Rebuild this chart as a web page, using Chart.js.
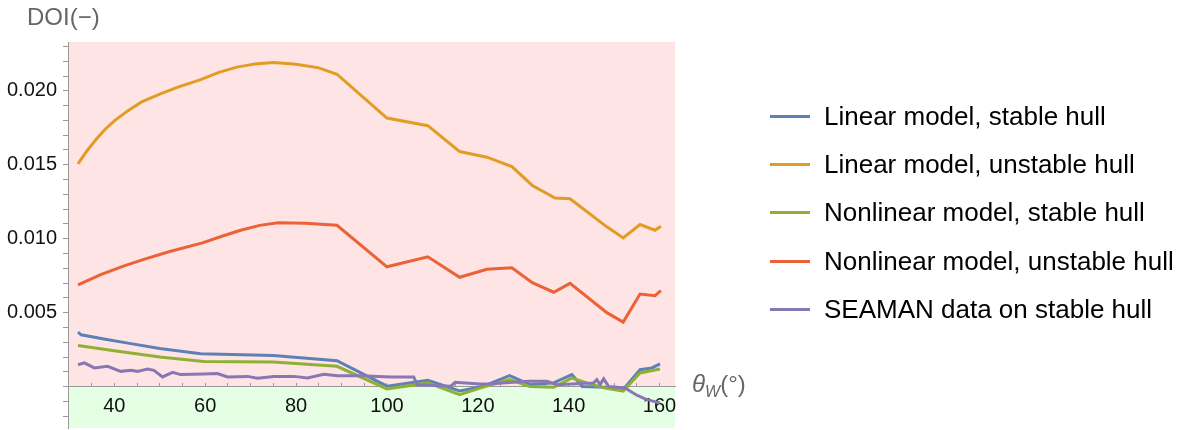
<!DOCTYPE html>
<html>
<head>
<meta charset="utf-8">
<script src="https://cdn.jsdelivr.net/npm/chart.js@4"></script>
<style>
  body { margin: 0; background: #fff; font-family: 'Liberation Sans', Arial, sans-serif; }
  #wrap { position: relative; width: 1193px; height: 430px; }
  #yTitle { position: absolute; left: 27px; top: 5px; font-size: 24px; line-height: 24px; color: #666; }
  #xTitle { position: absolute; left: 692px; top: 372px; font-size: 24px; line-height: 24px; color: #666; }
  #xTitle sub { font-size: 16px; vertical-align: -5px; }
  #legend { position: absolute; left: 770px; top: 92px; }
  .item { height: 48.4px; display: flex; align-items: center; font-size: 26px; color: #000; }
  .swatch { width: 40px; height: 3px; margin-right: 14px; }
</style>
</head>
<body>
<div id="wrap">
  <canvas id="doiChart"></canvas>
  <div id="yTitle">DOI(&minus;)</div>
  <div id="xTitle"><i>&theta;</i><sub><i>W</i></sub>(&deg;)</div>
  <div id="legend"></div>
</div>
<script>
// series (wave angle in degrees vs DOI)
const seriesNames = [
  'Linear model, stable hull',
  'Linear model, unstable hull',
  'Nonlinear model, stable hull',
  'Nonlinear model, unstable hull',
  'SEAMAN data on stable hull'
];
const seriesColors = ['#5e81b5', '#e19c24', '#8fb032', '#eb6235', '#8778b3'];

const linStableX = [32, 32.7, 38, 43, 50, 59, 75, 89, 100, 109, 116, 121, 127, 131.5, 136.7, 140.7, 143, 148, 152, 155.7, 158.3, 160.1];
const linStableY = [0.00368, 0.00350, 0.00320, 0.00294, 0.00258, 0.00222, 0.00211, 0.00175, 0.00003, 0.00042, -0.00030, 0.00000, 0.00074, 0.00013, 0.00025, 0.00081, 0.00000, -0.00005, -0.00020, 0.00114, 0.00126, 0.00153];

const linUnstableX = [32, 34, 36, 38, 40, 43, 46, 50, 54, 59, 63, 67, 71, 75, 80, 85, 89, 100, 109, 116, 122, 127.5, 132, 137, 140.3, 148.4, 152, 155.7, 159, 160.3];
const linUnstableY = [0.01506, 0.01595, 0.01672, 0.01740, 0.01797, 0.01866, 0.01925, 0.01978, 0.02025, 0.02075, 0.02125, 0.02160, 0.02182, 0.02191, 0.02180, 0.02155, 0.02112, 0.01816, 0.01764, 0.01589, 0.01551, 0.01488, 0.01360, 0.01275, 0.01270, 0.01080, 0.01005, 0.01096, 0.01057, 0.01084];

const nonStableX = [32, 40, 50, 59.7, 75, 89, 100, 109, 116, 121, 127, 131.5, 136.7, 140.7, 144, 148, 152, 155.7, 160.1];
const nonStableY = [0.00278, 0.00242, 0.00200, 0.00170, 0.00166, 0.00137, -0.00016, 0.00025, -0.00054, -0.00005, 0.00047, 0.00000, -0.00005, 0.00058, 0.00025, -0.00010, -0.00030, 0.00092, 0.00119];

const nonUnstableX = [32, 37, 42, 46.5, 52, 59.4, 64, 67.8, 72, 76, 82, 89, 100, 109, 116, 122, 127.5, 132, 136.7, 140.3, 148.4, 152, 155.7, 159, 160.3];
const nonUnstableY = [0.00687, 0.00757, 0.00815, 0.00860, 0.00912, 0.00972, 0.01020, 0.01057, 0.01090, 0.01107, 0.01105, 0.01091, 0.00810, 0.00878, 0.00739, 0.00793, 0.00804, 0.00703, 0.00638, 0.00698, 0.00500, 0.00436, 0.00626, 0.00615, 0.00649];

const seamanX = [32, 33.4, 35.6, 38.5, 41.4, 43.6, 45.1, 47.3, 48.7, 50.6, 52.8, 54.6, 59.7, 62.7, 64.9, 69.3, 71.5, 75.1, 79.5, 82.5, 86.1, 89.1, 94.2, 100.8, 105.9, 106.6, 114, 115, 120.5, 122.7, 131.2, 135.2, 137.4, 145.5, 146.2, 146.9, 147.7, 148.8, 152.4, 155, 157.2, 160.1];
const seamanY = [0.00148, 0.00160, 0.00126, 0.00137, 0.00103, 0.00110, 0.00103, 0.00119, 0.00110, 0.00065, 0.00096, 0.00081, 0.00085, 0.00088, 0.00065, 0.00069, 0.00056, 0.00069, 0.00069, 0.00058, 0.00083, 0.00074, 0.00074, 0.00065, 0.00065, 0.00013, 0.00002, 0.00029, 0.00018, 0.00020, 0.00036, 0.00036, 0.00013, 0.00025, 0.00047, 0.00013, 0.00052, 0.00000, -0.00010, -0.00058, -0.00088, -0.00110];

const xTickLabels = [40, 60, 80, 100, 120, 140, 160];
const yTickLabels = [0.005, 0.010, 0.015, 0.020];

function pts(xs, ys) {
  return xs.map((x, i) => ({ x: x, y: ys[i] }));
}

const allX = [linStableX, linUnstableX, nonStableX, nonUnstableX, seamanX];
const allY = [linStableY, linUnstableY, nonStableY, nonUnstableY, seamanY];

const datasets = seriesNames.map((name, i) => ({
  label: name,
  data: pts(allX[i], allY[i]),
  borderColor: seriesColors[i],
  borderWidth: 3,
  pointRadius: 0,
  tension: 0,
  order: 4 - i
}));

// legend on the right, as in the figure
const legend = document.getElementById('legend');
seriesNames.forEach((name, i) => {
  const row = document.createElement('div');
  row.className = 'item';
  const sw = document.createElement('span');
  sw.className = 'swatch';
  sw.style.background = seriesColors[i];
  row.appendChild(sw);
  row.appendChild(document.createTextNode(name));
  legend.appendChild(row);
});

// pink above zero, green below
const halfPlanes = {
  id: 'halfPlanes',
  beforeDraw(chart) {
    const { ctx, chartArea, scales } = chart;
    const y0 = scales.y.getPixelForValue(0);
    ctx.save();
    ctx.fillStyle = '#ffe4e6';
    ctx.fillRect(chartArea.left, chartArea.top, chartArea.width, y0 - chartArea.top);
    ctx.fillStyle = '#e4ffe4';
    ctx.fillRect(chartArea.left, y0, chartArea.width, chartArea.bottom - y0);
    ctx.restore();
  }
};

const fontFam = "'Liberation Sans', Arial, sans-serif";

new Chart(document.getElementById('doiChart'), {
  type: 'line',
  data: { datasets: datasets },
  options: {
    responsive: true,
    maintainAspectRatio: false,
    animation: false,
    layout: { padding: { left: 0, right: 518, top: 42, bottom: 2 } },
    scales: {
      x: {
        type: 'linear',
        min: 29.8,
        max: 163.4,
        position: { y: 0 },
        border: { color: '#999' },
        grid: { drawOnChartArea: false, tickLength: -4, color: '#999' },
        ticks: {
          stepSize: 5,
          includeBounds: false,
          padding: 12,
          autoSkip: false,
          maxRotation: 0,
          color: '#111',
          font: { size: 20, family: fontFam },
          callback: v => xTickLabels.includes(Math.round(v)) && Math.abs(v - Math.round(v)) < 1e-6 ? String(Math.round(v)) : ''
        },
        afterBuildTicks: s => {
          s.ticks = s.ticks.filter(t => Math.abs(t.value / 5 - Math.round(t.value / 5)) < 1e-6);
        }
      },
      y: {
        min: -0.0028,
        max: 0.0233,
        border: { color: '#999' },
        grid: { drawOnChartArea: false, tickLength: 5, color: '#999' },
        ticks: {
          stepSize: 0.001,
          includeBounds: false,
          padding: 6,
          autoSkip: false,
          color: '#111',
          font: { size: 20, family: fontFam },
          callback: v => {
            const hit = yTickLabels.find(t => Math.abs(t - v) < 1e-7);
            return hit !== undefined ? hit.toFixed(3) : '';
          }
        },
        afterBuildTicks: s => {
          s.ticks = s.ticks.filter(t => Math.abs(t.value * 1000 - Math.round(t.value * 1000)) < 1e-6);
        },
        afterFit: s => {
          s.width = 68;
          s.paddingTop = 0;
          s.paddingBottom = 0;
        }
      }
    },
    plugins: {
      legend: { display: false },
      tooltip: { enabled: false }
    }
  },
  plugins: [halfPlanes]
});
</script>
</body>
</html>
